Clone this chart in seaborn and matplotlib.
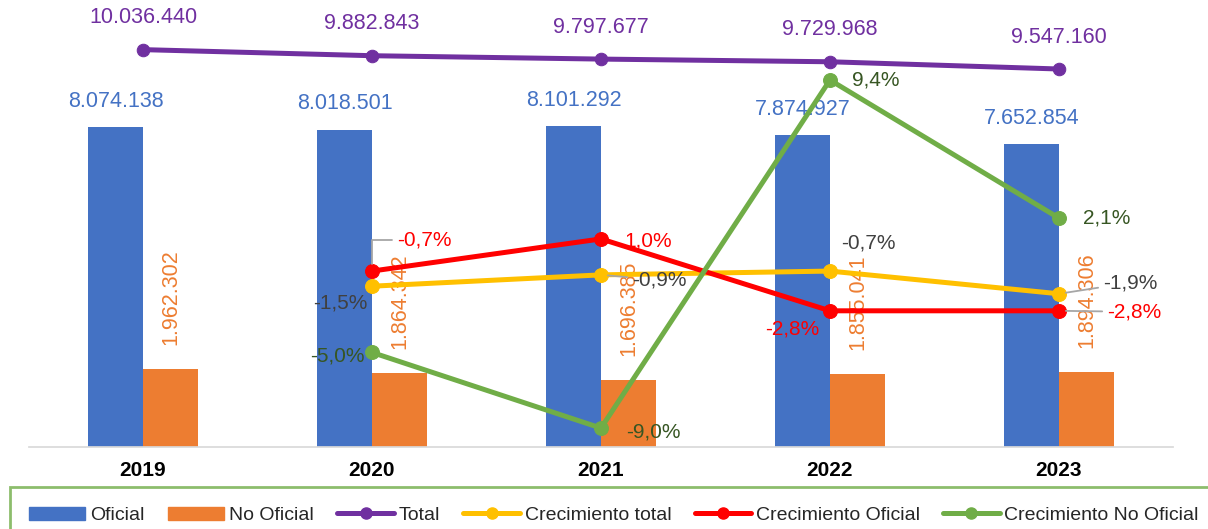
import matplotlib
matplotlib.use("Agg")
import matplotlib.pyplot as plt
from matplotlib.lines import Line2D
from matplotlib.patches import Patch
import pandas as pd
import seaborn as sns

# data
years = ["2019", "2020", "2021", "2022", "2023"]
oficial = [8074138, 8018501, 8101292, 7874927, 7652854]
no_oficial = [1962302, 1864342, 1696385, 1855041, 1894306]
total = [10036440, 9882843, 9797677, 9729968, 9547160]
# growth rates (%) exist from 2020 on
growth_years = ["2020", "2021", "2022", "2023"]
crec_total = [-1.5, -0.9, -0.7, -1.9]
crec_oficial = [-0.7, 1.0, -2.8, -2.8]
crec_no_oficial = [-5.0, -9.0, 9.4, 2.1]

BLUE, ORANGE, PURPLE = "#4472C4", "#ED7D31", "#7030A0"
YELLOW, RED, GREEN = "#FFC000", "#FF0000", "#70AD47"
FONT = ["Liberation Sans", "DejaVu Sans"]


def fmt_num(v):
    return f"{v:,}".replace(",", ".")


def fmt_pct(v):
    return f"{v:.1f}%".replace(".", ",")


sns.set_theme(style="white")
plt.rcParams["font.family"] = FONT

fig, ax = plt.subplots(figsize=(12.08, 5.29), dpi=100)
fig.subplots_adjust(left=0.0236, right=0.9714, bottom=0.155, top=1.0)

bars = pd.DataFrame({
    "year": years * 2,
    "serie": ["Oficial"] * len(years) + ["No Oficial"] * len(years),
    "valor": oficial + no_oficial,
})
sns.barplot(data=bars, x="year", y="valor", hue="serie",
            palette={"Oficial": BLUE, "No Oficial": ORANGE},
            width=0.48, gap=0, saturation=1, legend=False, ax=ax, zorder=2,
            linewidth=0, edgecolor="none")

xpos = list(range(len(years)))
sns.lineplot(x=xpos, y=total, ax=ax, color=PURPLE, lw=3.6, marker="o",
             markersize=9, markeredgecolor=PURPLE, zorder=4)

ax.set_xlim(-0.5, len(years) - 0.5)
ax.set_ylim(0, 11.29e6)
ax.set_yticks([])
ax.set_xlabel("")
ax.set_ylabel("")
for s in ["top", "left", "right"]:
    ax.spines[s].set_visible(False)
ax.spines["bottom"].set_color("#D9D9D9")
ax.tick_params(axis="x", length=0, pad=10)
for lab in ax.get_xticklabels():
    lab.set_fontweight("bold")
    lab.set_fontsize(15)
    lab.set_color("black")

# value labels
for i, v in enumerate(total):
    ax.annotate(fmt_num(v), (i, v), xytext=(0, 32), textcoords="offset pixels",
                ha="center", va="center", color=PURPLE, fontsize=15.5)
for i, v in enumerate(oficial):
    ax.annotate(fmt_num(v), (i - 0.12, v), xytext=(0, 26), textcoords="offset pixels",
                ha="center", va="center", color=BLUE, fontsize=15.5)
for i, v in enumerate(no_oficial):
    ax.annotate(fmt_num(v), (i + 0.12, v), xytext=(0, 24), textcoords="offset pixels",
                ha="center", va="bottom", rotation=90, color=ORANGE, fontsize=15.5)

ax2 = ax.twinx()
gpos = [years.index(y) for y in growth_years]
for vals, col in [(crec_total, YELLOW), (crec_oficial, RED), (crec_no_oficial, GREEN)]:
    sns.lineplot(x=gpos, y=vals, ax=ax2, color=col, lw=3.6, marker="o",
                 markersize=10, markeredgecolor=col, zorder=5)
ax2.set_ylim(-10, 13.63)
ax2.set_yticks([])
ax2.set_ylabel("")
for s in ax2.spines.values():
    s.set_visible(False)

leader = dict(arrowstyle="-", color="#A6A6A6", lw=1.3, shrinkA=1, shrinkB=5)
pct_labels = [
    (crec_total, "#404040", [(-32, -17, None), (58, -5, leader), (38, 28, None), (71, 11, leader)]),
    (crec_oficial, RED, [(52, 31, dict(leader, connectionstyle="angle,angleA=0,angleB=90,rad=0")),
                         (47, -2, None), (-38, -18, None), (75, -1, leader)]),
    (crec_no_oficial, "#375623", [(-35, -4, None), (52, -4, None), (46, 0, None), (48, 0, None)]),
]
for vals, col, offs in pct_labels:
    for x, v, (dx, dy, arrow) in zip(gpos, vals, offs):
        ax2.annotate(fmt_pct(v), (x, v), xytext=(dx, dy), textcoords="offset pixels",
                     ha="center", va="center", color=col, fontsize=15,
                     arrowprops=arrow, zorder=6)

handles = [
    Patch(color=BLUE, label="Oficial"),
    Patch(color=ORANGE, label="No Oficial"),
    Line2D([], [], color=PURPLE, lw=3.6, marker="o", markersize=8, label="Total"),
    Line2D([], [], color=YELLOW, lw=3.6, marker="o", markersize=8, label="Crecimiento total"),
    Line2D([], [], color=RED, lw=3.6, marker="o", markersize=8, label="Crecimiento Oficial"),
    Line2D([], [], color=GREEN, lw=3.6, marker="o", markersize=8, label="Crecimiento No Oficial"),
]
leg = fig.legend(handles=handles, loc="upper left", bbox_to_anchor=(0.008, 0.079),
                 ncol=6, frameon=True, fontsize=14, handlelength=2.9,
                 handletextpad=0.25, columnspacing=1.2, borderpad=1.0,
                 fancybox=False, borderaxespad=0)
leg.get_frame().set_edgecolor(GREEN)
leg.get_frame().set_linewidth(2)

fig.savefig("out.png", dpi=100)
